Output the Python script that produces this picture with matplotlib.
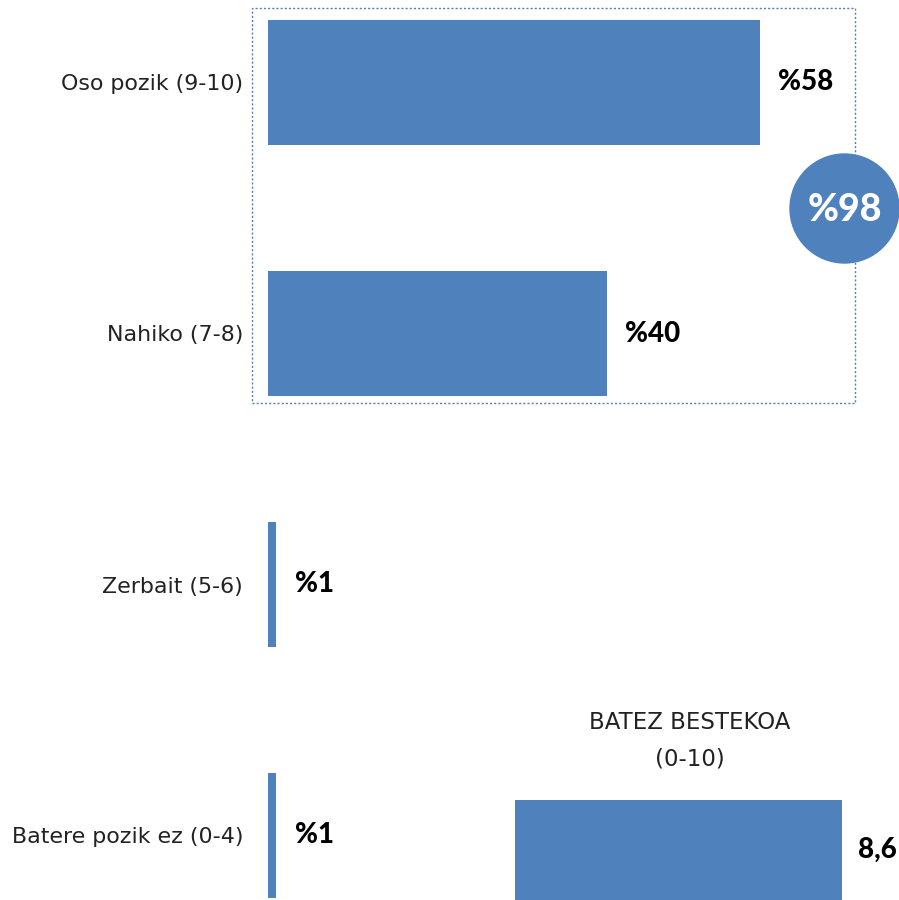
import matplotlib
matplotlib.use("Agg")
import matplotlib.pyplot as plt
from matplotlib.patches import Rectangle, Ellipse

# datuak
categories = ["Oso pozik (9-10)", "Nahiko (7-8)", "Zerbait (5-6)", "Batere pozik ez (0-4)"]
values = [58, 40, 1, 1]
value_labels = ["%58", "%40", "%1", "%1"]
total_label = "%98"
mean_value = 8.6
mean_label = "8,6"
mean_title = "BATEZ BESTEKOA\n(0-10)"

blue = "#4F81BD"
plt.rcParams['font.family'] = ['Lato', 'DejaVu Sans']
reg_font = ['DejaVu Sans']

W, H = 899, 900
fig = plt.figure(figsize=(W / 100, H / 100), dpi=100)

# barra nagusiak
ax = fig.add_axes([268 / W, 0, 593.6 / W, 1])
y = list(range(len(categories)))
ax.barh(y, values, height=0.5, color=blue)
ax.set_xlim(0, 70)
ax.set_ylim((900 - 82.5) / 251, -82.5 / 251)
ax.set_yticks(y)
ax.set_yticklabels(categories, fontsize=15.9, color="#222222", family=reg_font)
ax.tick_params(axis="y", length=0, pad=18)
ax.set_xticks([])
for s in ax.spines.values():
    s.set_visible(False)
for yi, v, lab in zip(y, values, value_labels):
    ax.annotate(lab, (v, yi), xytext=(13, 0), textcoords="offset points",
                ha="left", va="center", fontsize=20, fontweight="black", color="black")

# puntuzko laukia eta biribila
fig.patches.append(Rectangle((252 / W, 1 - 403 / H), (855 - 252) / W, (403 - 8) / H,
                             fill=False, linestyle=(0, (1.5, 1.5)), lw=1, edgecolor="#5a7fae",
                             transform=fig.transFigure, figure=fig))
fig.patches.append(Ellipse((844.5 / W, 1 - 208.5 / H), 109 / W, 109 / H, color=blue,
                           transform=fig.transFigure, figure=fig, zorder=5))
fig.text(844.5 / W, 1 - 210 / H, total_label, ha="center", va="center", color="white",
         fontsize=27, fontweight="black", zorder=6)

# batez bestekoa
ax2 = fig.add_axes([515 / W, 0, 380 / W, 100 / H])
ax2.barh([0.5], [mean_value], height=1, color=blue)
ax2.set_xlim(0, 10)
ax2.set_ylim(0, 1)
ax2.axis("off")
ax2.annotate(mean_label, (mean_value, 0.5), xytext=(12, 0), textcoords="offset points",
             ha="left", va="center", fontsize=20, fontweight="black", color="black")
fig.text(690 / W, 1 - 741 / H, mean_title, ha="center", va="center", fontsize=16.5,
         color="#222222", linespacing=1.75, family=reg_font)

fig.savefig("out.png", dpi=100)
